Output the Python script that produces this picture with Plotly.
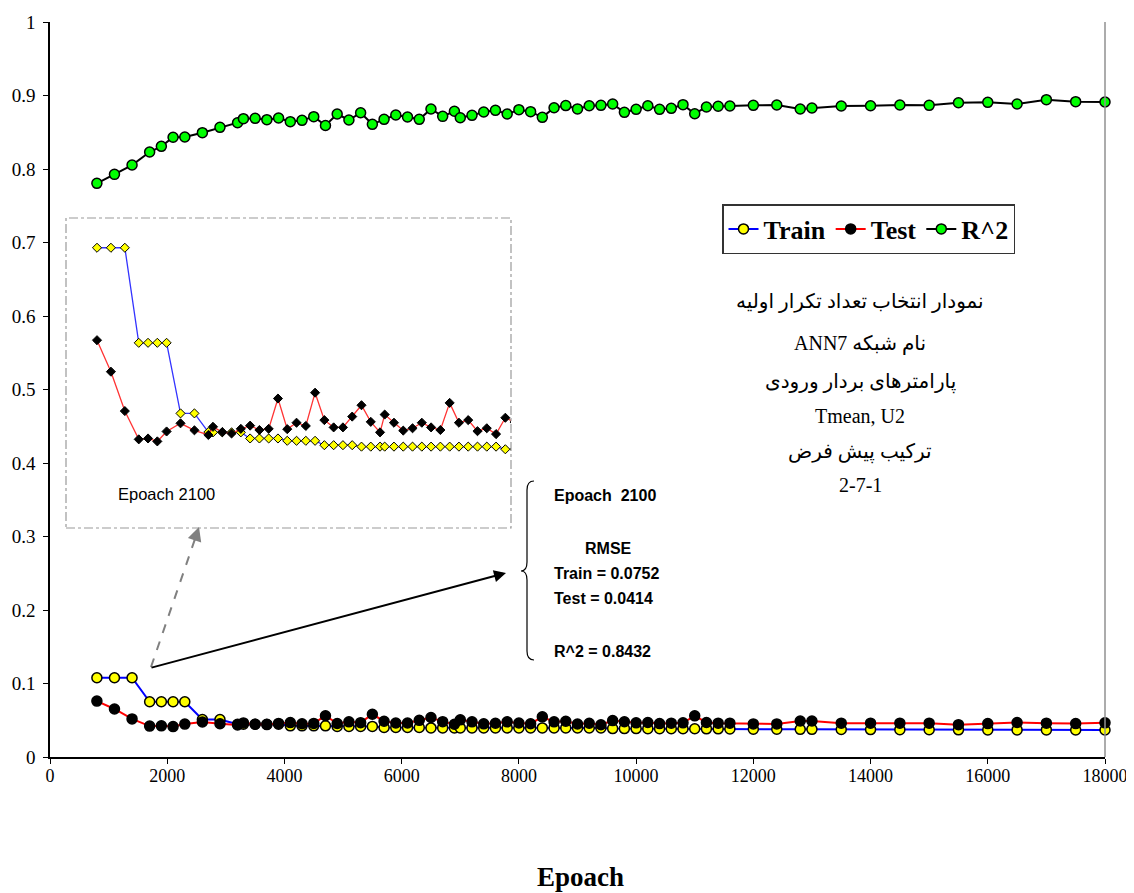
import plotly.graph_objects as go

# ---------------- data ----------------
epochs = [800, 1100, 1400, 1700, 1900, 2100, 2300, 2600, 2900, 3200,
          3300, 3500, 3700, 3900, 4100, 4300, 4500, 4700, 4900, 5100,
          5300, 5500, 5700, 5900, 6100, 6300, 6500, 6700, 6900, 7000,
          7200, 7400, 7600, 7800, 8000, 8200, 8400, 8600, 8800, 9000,
          9200, 9400, 9600, 9800, 10000, 10200, 10400, 10600, 10800, 11000,
          11200, 11400, 11600, 12000, 12400, 12800, 13000, 13500, 14000, 14500,
          15000, 15500, 16000, 16500, 17000, 17500, 18000]

train = [0.1078, 0.1078, 0.1078, 0.0752, 0.0752, 0.0752, 0.0752, 0.0510, 0.0510, 0.0446,
         0.0445, 0.0445, 0.0445, 0.0445, 0.0424, 0.0424, 0.0424, 0.0424, 0.0416, 0.0416,
         0.0416, 0.0416, 0.0401, 0.0401, 0.0401, 0.0401, 0.0396, 0.0396, 0.0396, 0.0396,
         0.0396, 0.0396, 0.0396, 0.0396, 0.0396, 0.0396, 0.0396, 0.0396, 0.0396, 0.0396,
         0.0396, 0.0396, 0.0387, 0.0387, 0.0387, 0.0386, 0.0386, 0.0385, 0.0385, 0.0385,
         0.0383, 0.0383, 0.0382, 0.0378, 0.0377, 0.0376, 0.0376, 0.0374, 0.0373, 0.0372,
         0.0371, 0.0370, 0.0369, 0.0369, 0.0369, 0.0368, 0.0368]

test = [0.0761, 0.0653, 0.0518, 0.0421, 0.0424, 0.0414, 0.0448, 0.0476, 0.0452, 0.0436,
        0.0464, 0.0446, 0.0441, 0.0457, 0.0468, 0.0453, 0.0457, 0.0561, 0.0456, 0.0478,
        0.0467, 0.0581, 0.0487, 0.0462, 0.0462, 0.0499, 0.0538, 0.0481, 0.0445, 0.0506,
        0.0478, 0.0451, 0.0459, 0.0478, 0.0462, 0.0453, 0.0546, 0.0478, 0.0487, 0.0449,
        0.0459, 0.0439, 0.0495, 0.0480, 0.0465, 0.0470, 0.0455, 0.0460, 0.0465, 0.0560,
        0.0470, 0.0460, 0.0460, 0.0450, 0.0450, 0.0490, 0.0490, 0.0460, 0.0460, 0.0460,
        0.0460, 0.0440, 0.0455, 0.0470, 0.0460, 0.0455, 0.0465]

r2 = [0.7805, 0.7927, 0.8054, 0.8231, 0.8308, 0.8432, 0.8435, 0.8494, 0.8567, 0.8630,
      0.8685, 0.8689, 0.8671, 0.8694, 0.8644, 0.8662, 0.8712, 0.8592, 0.8748, 0.8667,
      0.8766, 0.8608, 0.8676, 0.8735, 0.8707, 0.8676, 0.8816, 0.8716, 0.8785, 0.8698,
      0.8730, 0.8776, 0.8798, 0.8748, 0.8807, 0.8780, 0.8703, 0.8834, 0.8863, 0.8818,
      0.8861, 0.8866, 0.8884, 0.8771, 0.8812, 0.8861, 0.8812, 0.8825, 0.8875, 0.8752,
      0.8844, 0.8853, 0.8857, 0.8866, 0.8871, 0.8816, 0.8830, 0.8857, 0.8861, 0.8871,
      0.8866, 0.8902, 0.8907, 0.8884, 0.8943, 0.8916, 0.8912]

x_ticks = [0, 2000, 4000, 6000, 8000, 10000, 12000, 14000, 16000, 18000]
y_ticks = [0, 0.1, 0.2, 0.3, 0.4, 0.5, 0.6, 0.7, 0.8, 0.9, 1]

series_names = ["Train", "Test", "R^2"]
info_lines = ["نمودار انتخاب تعداد تکرار اولیه",
              "ANN7 نام شبکه",
              "پارامترهای بردار ورودی",
              "Tmean, U2",
              "ترکیب پیش فرض",
              "2-7-1"]
rmse_lines = ["Epoach  2100", "RMSE", "Train = 0.0752", "Test = 0.0414", "R^2 = 0.8432"]

# ---------------- layout helpers (page pixel -> paper) ----------------
OFF = 8                      # default page margin around the plot div
W, H = 1134 - OFF, 893 - OFF
PL, PR, PT, PB = 50, 1105, 22, 757   # plot area in page pixels
ML, MT = PL - OFF, PT - OFF
PW, PH = PR - PL, PB - PT
MR, MB = W - ML - PW, H - MT - PH


def px(x):
    return (x - PL) / PW


def py(y):
    return (PB - y) / PH


SERIF = "Liberation Serif, Times New Roman, DejaVu Sans, serif"
SANS = "Liberation Sans, Arial, sans-serif"

fig = go.Figure()

# main series
fig.add_trace(go.Scatter(x=epochs, y=train, name=series_names[0], mode="lines+markers",
                         line=dict(color="#0000FF", width=2),
                         marker=dict(symbol="circle", size=10, color="#FFFF00",
                                     line=dict(color="black", width=1.5)),
                         cliponaxis=False))
fig.add_trace(go.Scatter(x=epochs, y=test, name=series_names[1], mode="lines+markers",
                         line=dict(color="#FF0000", width=2),
                         marker=dict(symbol="circle", size=10, color="black",
                                     line=dict(color="black", width=1.5)),
                         cliponaxis=False))
fig.add_trace(go.Scatter(x=epochs, y=r2, name=series_names[2], mode="lines+markers",
                         line=dict(color="black", width=2),
                         marker=dict(symbol="circle", size=10, color="#00FF00",
                                     line=dict(color="black", width=1.5)),
                         cliponaxis=False))

# inset (zoomed copy of Train / Test)
fig.add_trace(go.Scatter(x=epochs, y=train, mode="lines+markers", showlegend=False,
                         xaxis="x2", yaxis="y2",
                         line=dict(color="#3333FF", width=1.3),
                         marker=dict(symbol="diamond", size=7, color="#FFFF00",
                                     line=dict(color="black", width=1))))
fig.add_trace(go.Scatter(x=epochs, y=test, mode="lines+markers", showlegend=False,
                         xaxis="x2", yaxis="y2",
                         line=dict(color="#FF3333", width=1.3),
                         marker=dict(symbol="diamond", size=7, color="black",
                                     line=dict(color="black", width=1))))

annotations = []

# Persian info text
info_y = [301, 343, 382, 416, 452, 485]
for t, yy in zip(info_lines, info_y):
    annotations.append(dict(xref="paper", yref="paper", x=px(860), y=py(yy), text=t,
                            showarrow=False, xanchor="center", yanchor="middle",
                            font=dict(family=SERIF, size=20, color="black")))

# RMSE box text
rmse_pos = [(552, 495, "left"), (608, 548, "center"), (552, 573, "left"),
            (552, 598, "left"), (552, 651, "left")]
for t, (xx, yy, anc) in zip(rmse_lines, rmse_pos):
    annotations.append(dict(xref="paper", yref="paper", x=px(xx), y=py(yy), text="<b>%s</b>" % t,
                            showarrow=False, xanchor=anc, yanchor="middle",
                            font=dict(family=SANS, size=16, color="black")))

# inset label
annotations.append(dict(xref="paper", yref="paper", x=px(116), y=py(494), text="Epoach 2100",
                        showarrow=False, xanchor="left", yanchor="middle",
                        font=dict(family=SANS, size=16.5, color="black")))

# x axis title
annotations.append(dict(xref="paper", yref="paper", x=px(580), y=py(877), text="<b>Epoach</b>",
                        showarrow=False, xanchor="center", yanchor="middle",
                        font=dict(family=SERIF, size=27, color="black")))

# solid black arrow (to the RMSE box)
annotations.append(dict(xref="paper", yref="paper", x=px(506), y=py(573),
                        axref="pixel", ayref="pixel", ax=150 - 506, ay=668 - 573,
                        showarrow=True, arrowhead=2, arrowsize=1.2, arrowwidth=2,
                        arrowcolor="black", text=""))
# grey arrowhead (to the inset)
annotations.append(dict(xref="paper", yref="paper", x=px(199), y=py(527),
                        axref="pixel", ayref="pixel", ax=-5, ay=15,
                        showarrow=True, arrowhead=2, arrowsize=1.4, arrowwidth=2,
                        arrowcolor="#808080", text=""))

shapes = [
    # inset frame
    dict(type="rect", xref="paper", yref="paper", x0=px(66), x1=px(511), y0=py(528), y1=py(218),
         line=dict(color="#9a9a9a", width=1.2, dash="dashdot")),
    # dashed grey arrow shaft
    dict(type="line", xref="paper", yref="paper", x0=px(151), y0=py(667), x1=px(196), y1=py(536),
         line=dict(color="#808080", width=2, dash="dash")),
    # right plot border
    dict(type="line", xref="paper", yref="paper", x0=1, x1=1, y0=0, y1=1,
         line=dict(color="#909090", width=1.5)),
]

# curly brace
brace = ("M {a},{b} Q {c},{b} {c},{d} L {c},{e} Q {c},{f} {g},{f} "
         "Q {c},{f} {c},{h} L {c},{i} Q {c},{j} {a},{j}").format(
    a=px(534), b=py(481), c=px(527), d=py(490), e=py(562), f=py(571), g=px(521),
    h=py(580), i=py(651), j=py(660))
shapes.append(dict(type="path", xref="paper", yref="paper", path=brace,
                   line=dict(color="black", width=1.2)))

fig.update_layout(
    width=W, height=H,
    margin=dict(l=ML, r=MR, t=MT, b=MB, pad=0, autoexpand=False),
    paper_bgcolor="white", plot_bgcolor="white",
    showlegend=True,
    legend=dict(orientation="h", x=px(722), y=py(204), xanchor="left", yanchor="top",
                bgcolor="white", bordercolor="#333333", borderwidth=1.5,
                font=dict(family=SERIF, size=26, color="black", weight="bold"),
                itemwidth=30, tracegroupgap=0, traceorder="normal"),
    xaxis=dict(range=[0, 18000], tickvals=x_ticks, tickformat="d", automargin=False,
               showgrid=False, zeroline=False, showline=True, linecolor="black", linewidth=1.5,
               ticks="outside", ticklen=5, tickcolor="black", ticklabelstandoff=-3,
               tickfont=dict(family=SERIF, size=18, color="black")),
    yaxis=dict(range=[0, 1], tickvals=y_ticks, showgrid=False, zeroline=False, automargin=False,
               showline=True, linecolor="black", linewidth=1.5,
               ticks="outside", ticklen=5, tickcolor="black", ticklabelstandoff=4,
               tickfont=dict(family=SERIF, size=19, color="black")),
    xaxis2=dict(domain=[px(66), px(511)], range=[132, 9722], anchor="y2",
                visible=False, showgrid=False, zeroline=False),
    yaxis2=dict(domain=[py(528), py(218)], range=[0.0117, 0.118], anchor="x2",
                visible=False, showgrid=False, zeroline=False),
    annotations=annotations,
    shapes=shapes,
)

fig.write_html("out.html")
